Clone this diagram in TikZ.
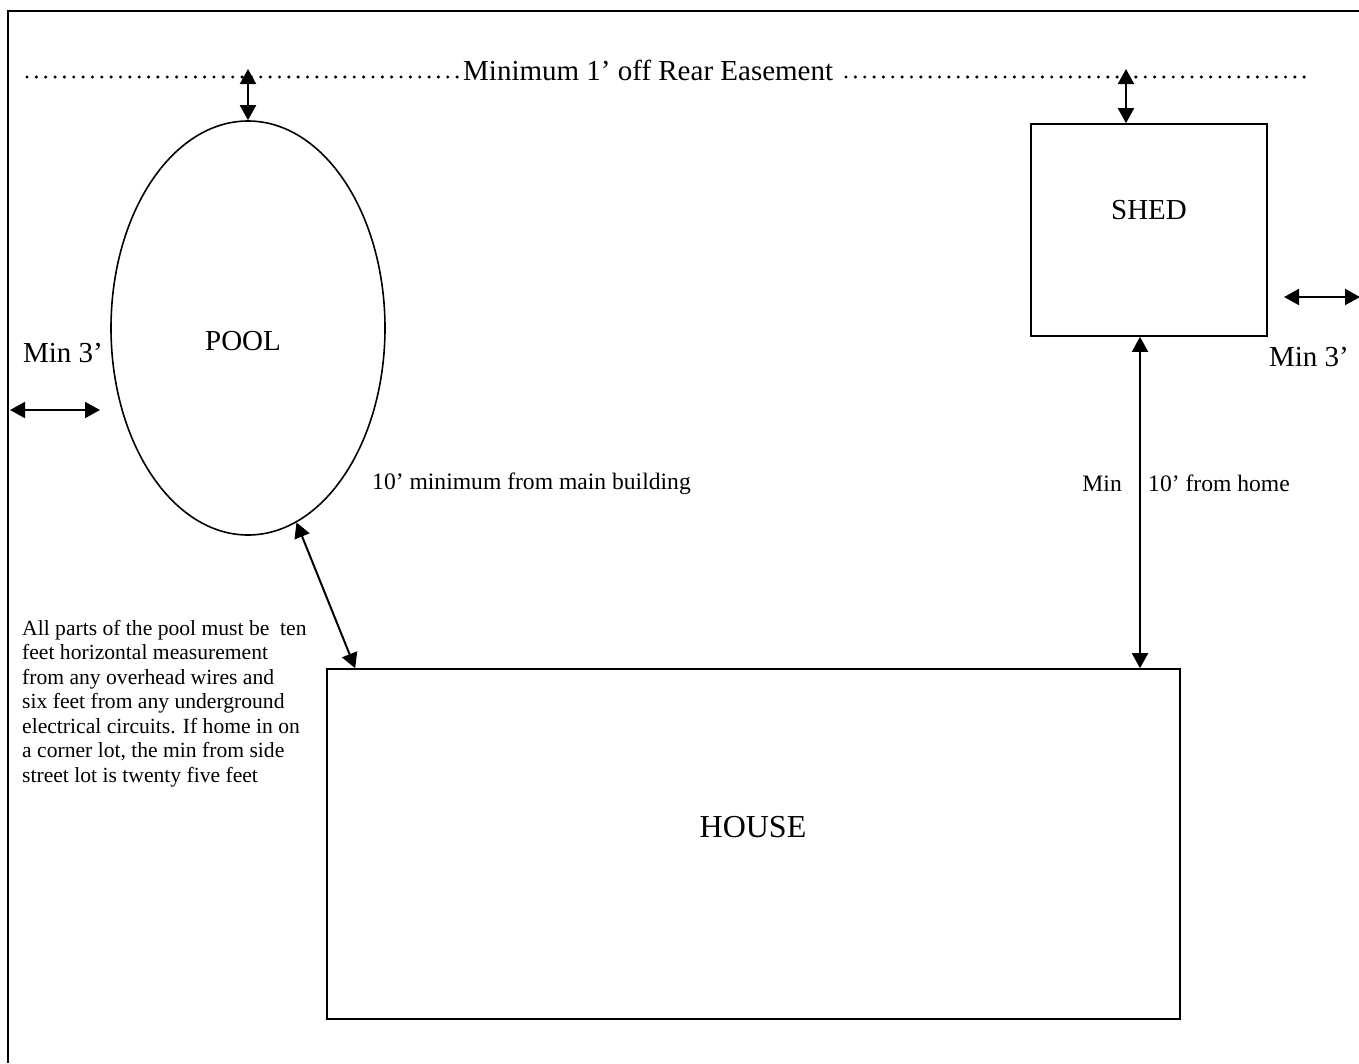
\documentclass[tikz,border=0pt]{standalone}
\usepackage{fontspec}
\setmainfont{Liberation Serif}
\usetikzlibrary{shapes.geometric,arrows.meta}

\tikzset{
	big/.style={font=\fontsize{29}{33}\selectfont, inner sep=0pt},
	small/.style={font=\fontsize{23.6}{27}\selectfont, inner sep=0pt},
	bothway/.style={line width=2pt, {Triangle[length=15pt,width=16pt]}-{Triangle[length=15pt,width=16pt]}},
	plan/.style={draw, line width=1.6pt, inner sep=0pt},
	easedots/.style={line width=3.4pt, line cap=round, dash pattern=on 0pt off 9.35pt}
}

\begin{document}
\begin{tikzpicture}[x=1pt, y=-1pt]
			\useasboundingbox (0,0) rectangle (1359,1063);
			% lot border
			\draw [line width=1.5pt] (8,1063) -- (8,11) -- (1359,11);
			% rear easement
			\draw [easedots] (27,77) -- (458,77);
			\draw [easedots] (846,77) -- (1313,77);
			\node [big, anchor=base west] (easement) at (463,80) {Minimum 1’ off Rear Easement};
			\coordinate (e1) at (248,69);
			\coordinate (e2) at (1126,69);
			% buildings
			\node [plan, ellipse, minimum width=274pt, minimum height=414pt] (pool) at (248,328) {};
			\node [plan, rectangle, minimum width=236pt, minimum height=212pt] (shed) at (1149,230) {};
			\node [plan, rectangle, minimum width=853pt, minimum height=350pt] (house) at (753.5,844) {};
			\node [big, anchor=base] (poolname) at (243,350) {POOL};
			\node [big, anchor=base] (shedname) at (1149,219) {SHED};
			\node [big, font=\fontsize{32}{36}\selectfont, anchor=base] (housename) at (753,837) {HOUSE};
			% side setbacks
			\node [big, anchor=base] (minleft) at (63,362) {Min 3’};
			\node [big, anchor=base] (minright) at (1309,366) {Min 3’};
			\coordinate (l1) at (10,410);
			\coordinate (l2) at (100,410);
			\coordinate (r1) at (1284,297);
			\coordinate (r2) at (1360,297);
			\draw [bothway] (l1) -- (l2);
			\draw [bothway] (r1) -- (r2);
			% distances
			\draw [bothway] (e1) -- (pool.north);
			\draw [bothway] (e2) -- ([xshift=-23pt]shed.north);
			\draw [bothway] (pool.-76) -- ([xshift=29pt]house.north west);
			\draw [bothway] ([xshift=-9pt]shed.south) -- ([xshift=-9pt]shed.south |- house.north);
			\node [small, anchor=base west] (poolgap) at (372,489) {10’ minimum from main building};
			\node [small, anchor=base east] (shedmin) at (1122,491) {Min};
			\node [small, anchor=base west] (shedgap) at (1148,491) {10’ from home};
			% note on wires
			\node [small, font=\fontsize{21.6}{24.5}\selectfont, align=left, anchor=north west] (note) at (22,620) {All parts of the pool must be ~ten\\feet horizontal measurement\\from any overhead wires and\\six feet from any underground\\electrical circuits. If home in on\\a corner lot, the min from side\\street lot is twenty five feet};
	\end{tikzpicture}
\end{document}
